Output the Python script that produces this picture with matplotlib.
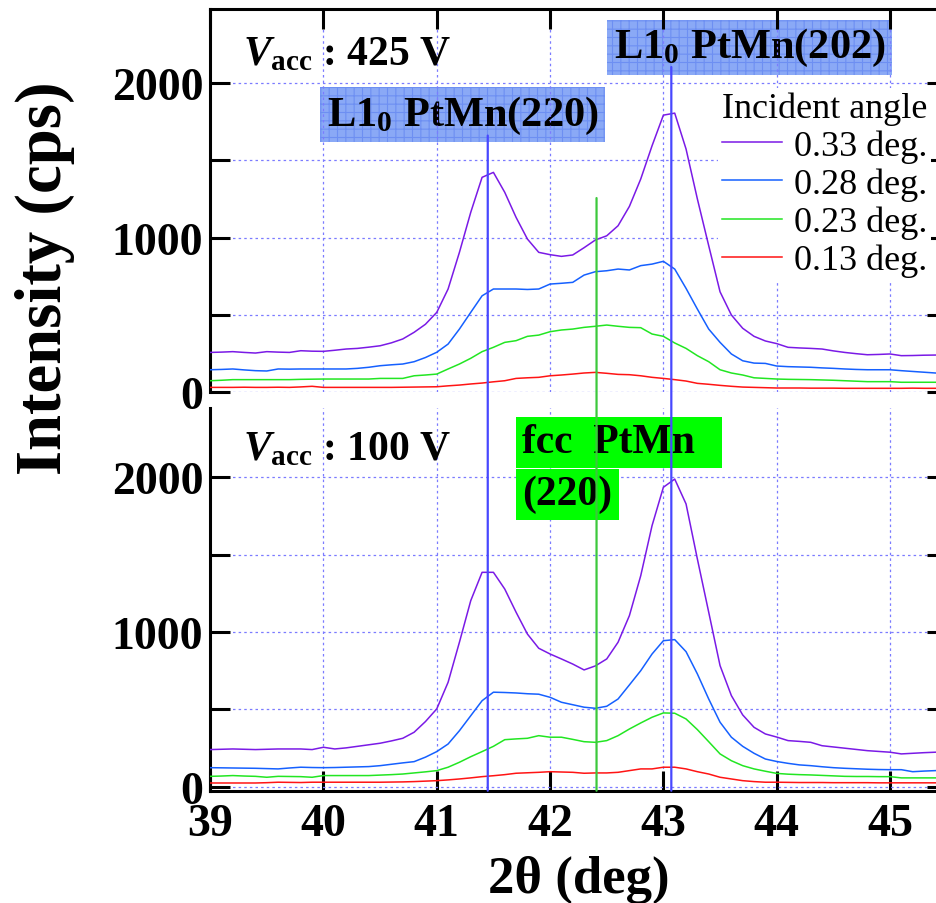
import numpy as np
import matplotlib
matplotlib.use("Agg")
import matplotlib.pyplot as plt
from matplotlib.patches import ConnectionPatch

plt.rcParams['font.family'] = ['Liberation Serif', 'DejaVu Serif']
plt.rcParams['mathtext.fontset'] = 'custom'
plt.rcParams['mathtext.rm'] = 'Liberation Serif:bold'
plt.rcParams['mathtext.bf'] = 'Liberation Serif:bold'
plt.rcParams['mathtext.it'] = 'Liberation Serif:italic:bold'
plt.rcParams['hatch.linewidth'] = 0.8

# 2theta scan, 0.1 deg step
two_theta = np.round(np.arange(39.0, 45.45, 0.1), 1)

labels = ['0.33 deg.', '0.28 deg.', '0.23 deg.', '0.13 deg.']
colors = ['#7a1ae6', '#1560ff', '#22e622', '#ff1414']

# Vacc = 425 V
top_033 = [258, 260, 263, 258, 254, 263, 260, 258, 269, 266, 265, 272, 280, 284, 292, 301, 320, 345, 388, 440,
           517, 668, 905, 1164, 1390, 1422, 1293, 1131, 991, 905, 890, 879, 888, 935, 985, 1012, 1077, 1202, 1379, 1594,
           1792, 1805, 1573, 1250, 948, 650, 500, 414, 362, 332, 315, 291, 287, 284, 280, 268, 258, 250, 243, 245,
           248, 237, 238, 240, 241]
top_028 = [146, 148, 151, 145, 140, 138, 151, 150, 151, 151, 151, 151, 151, 155, 162, 172, 178, 183, 198, 225,
           259, 312, 409, 517, 624, 668, 668, 668, 665, 668, 700, 705, 711, 758, 780, 786, 797, 791, 819, 829,
           847, 797, 672, 538, 409, 323, 248, 204, 189, 187, 170, 166, 164, 162, 158, 155, 151, 148, 146, 146,
           146, 140, 135, 130, 125]
top_023 = [75, 78, 82, 82, 82, 82, 82, 82, 84, 85, 86, 86, 86, 86, 86, 90, 90, 90, 107, 112,
           118, 151, 183, 220, 263, 291, 323, 334, 362, 370, 392, 403, 409, 420, 427, 435, 427, 420, 418, 377,
           362, 319, 284, 237, 198, 146, 125, 112, 94, 90, 86, 84, 83, 82, 80, 78, 75, 72, 69, 69,
           69, 65, 65, 65, 65]
top_013 = [32, 32, 32, 33, 32, 32, 33, 32, 35, 39, 32, 32, 32, 32, 32, 32, 32, 33, 34, 35,
           36, 42, 47, 54, 60, 68, 75, 90, 94, 97, 107, 112, 118, 125, 129, 123, 116, 114, 107, 97,
           90, 82, 73, 58, 52, 45, 39, 34, 32, 30, 28, 28, 28, 27, 27, 27, 26, 26, 26, 26,
           26, 26, 27, 26, 26]

# Vacc = 100 V
bot_033 = [239, 241, 243, 241, 239, 241, 243, 243, 243, 239, 254, 243, 250, 260, 270, 280, 295, 312, 351, 420,
           502, 674, 933, 1202, 1385, 1385, 1277, 1127, 986, 894, 857, 825, 792, 754, 780, 825, 933, 1105, 1363, 1687,
           1935, 1988, 1827, 1471, 1127, 782, 588, 463, 383, 340, 320, 297, 292, 286, 264, 256, 248, 240, 232, 227,
           222, 211, 215, 219, 222]
bot_028 = [122, 121, 120, 119, 118, 116, 114, 120, 125, 123, 122, 123, 125, 127, 129, 135, 144, 153, 161, 190,
           226, 275, 361, 458, 555, 610, 608, 605, 600, 597, 577, 545, 529, 513, 506, 519, 566, 657, 749, 857,
           943, 950, 872, 728, 566, 416, 319, 260, 215, 178, 162, 150, 140, 135, 128, 122, 118, 115, 112, 110,
           109, 109, 96, 100, 103]
bot_023 = [66, 68, 71, 68, 66, 60, 66, 65, 64, 60, 71, 71, 71, 71, 71, 74, 77, 81, 88, 95,
           103, 125, 157, 193, 226, 260, 303, 308, 312, 329, 319, 319, 305, 290, 286, 297, 329, 372, 411, 448,
           476, 474, 437, 368, 290, 211, 167, 135, 114, 99, 85, 80, 77, 75, 72, 69, 66, 65, 65, 64,
           64, 56, 56, 56, 56]
bot_013 = [23, 23, 23, 23, 23, 25, 28, 27, 26, 28, 28, 28, 28, 28, 28, 28, 29, 30, 32, 35,
           38, 43, 49, 56, 64, 70, 77, 86, 89, 92, 96, 94, 92, 86, 88, 88, 92, 103, 114, 114,
           125, 125, 114, 96, 81, 60, 49, 38, 32, 28, 28, 27, 26, 26, 26, 25, 25, 25, 25, 24,
           24, 24, 24, 24, 24]

top_series = [top_033, top_028, top_023, top_013]
bot_series = [bot_033, bot_028, bot_023, bot_013]

# peak markers (deg)
l10_220 = 41.45
l10_202 = 43.07
fcc_220 = 42.41

fig = plt.figure(figsize=(9.36, 9.04), dpi=100)
ax1 = fig.add_axes([0.2245, 0.5649, 0.7869, 0.4240])
ax2 = fig.add_axes([0.2245, 0.1242, 0.7869, 0.4233])

grid_kw = dict(color='#7b7bff', linestyle=(0, (2, 2.5)), linewidth=0.9)

for ax, series in [(ax1, top_series), (ax2, bot_series)]:
    for vals, c, lab in zip(series, colors, labels):
        ax.plot(two_theta, vals, color=c, lw=1.1, label=lab, zorder=3)
    ax.set_xlim(39, 45.5)
    ax.set_xticks(range(39, 46))
    ax.set_yticks(range(0, 2001, 500))
    ax.set_yticklabels(['0', '', '1000', '', '2000'])
    ax.grid(True, **grid_kw)
    ax.set_axisbelow(True)
    for s in ax.spines.values():
        s.set_linewidth(2.2)
    ax.tick_params(direction='in', length=14.5, width=2.2, labelsize=33, pad=5,
                   left=True, right=True)
    for t in ax.get_xticklabels() + ax.get_yticklabels():
        t.set_fontweight('bold')

ax1.set_ylim(0, 2478)
ax1.spines['bottom'].set_visible(False)
ax1.tick_params(axis='x', bottom=False, labelbottom=False, top=True)

ax2.set_ylim(-27, 2447)
ax2.spines['top'].set_visible(False)
ax2.tick_params(axis='x', top=False, bottom=True, pad=9)

# labels
ax2.set_xlabel('2θ (deg)', fontsize=38, fontweight='bold', labelpad=7)
fig.text(0.048, 0.692, 'Intensity (cps)', rotation=90, ha='center', va='center',
         fontsize=46.5, fontweight='bold')

ax1.text(39.29, 2122, r'$V_{\mathrm{acc}}$ : 425 V', fontsize=30, fontweight='bold',
         ha='left', va='baseline', zorder=6)
ax2.text(39.29, 2118, r'$V_{\mathrm{acc}}$ : 100 V', fontsize=30, fontweight='bold',
         ha='left', va='baseline', zorder=6)

blue_box = dict(boxstyle='square,pad=0.15', facecolor='#8aa9f6', edgecolor='#6d8ff2',
                linewidth=0, hatch='++')
ax1.text(40.03, 1730, r'L1$_0$ PtMn(220)', fontsize=30.5, fontweight='bold',
         ha='left', va='baseline', bbox=blue_box, zorder=0.3)
ax1.text(42.56, 2166, r'L1$_0$ PtMn(202)', fontsize=30.5, fontweight='bold',
         ha='left', va='baseline', bbox=blue_box, zorder=0.3, clip_on=False)

green_box = dict(boxstyle='square,pad=0.15', facecolor='#00ff00', edgecolor='none')
ax2.text(41.755, 2160, 'fcc  PtMn  ', fontsize=30, fontweight='bold',
         ha='left', va='baseline', bbox=green_box, zorder=6)
ax2.text(41.755, 1825, '(220)', fontsize=30, fontweight='bold',
         ha='left', va='baseline', bbox=green_box, zorder=6)

# peak position lines across both panels
for x, ytop, c in [(l10_220, 1660, '#4848ff'), (l10_202, 2103, '#4848ff'), (fcc_220, 1256, '#3cc83c')]:
    con = ConnectionPatch(xyA=(x, ytop), coordsA=ax1.transData,
                          xyB=(x, -27), coordsB=ax2.transData,
                          color=c, linewidth=1.6, zorder=5)
    fig.add_artist(con)

leg = ax1.legend(title='Incident angle', loc='upper left', bbox_to_anchor=(0.69, 0.795),
                 fontsize=26, title_fontsize=26, frameon=True, fancybox=False,
                 edgecolor='none', facecolor='white', framealpha=1,
                 handlelength=1.65, handletextpad=0.35, labelspacing=0.13,
                 borderpad=0.1, borderaxespad=0, alignment='left')
leg.set_zorder(4)

fig.savefig('out.png', dpi=100)
